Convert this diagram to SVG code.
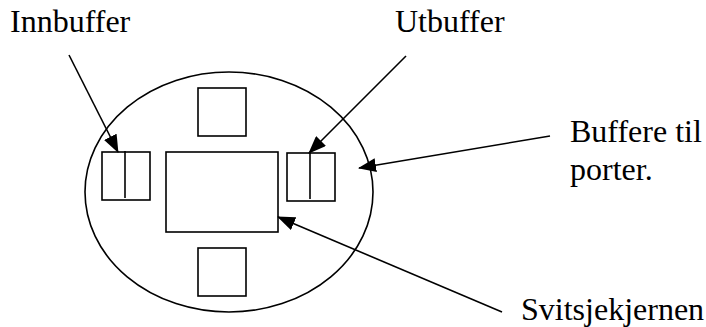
<svg xmlns="http://www.w3.org/2000/svg" width="706" height="327" viewBox="0 0 706 327">
  <style>
    .shape { fill: none; stroke: #000; stroke-width: 1.6; }
    .conn { fill: none; stroke: #000; stroke-width: 1.6; }
    .label { font-family: "Liberation Serif", "Times New Roman", serif; font-size: 32px; fill: #000; }
  </style>
  <defs>
    <marker id="arrow" markerUnits="userSpaceOnUse" markerWidth="18" markerHeight="14" viewBox="0 0 18 14" refX="17" refY="7" orient="auto">
      <path d="M0,0 L18,7 L0,14 Z" fill="#000"/>
    </marker>
  </defs>
  <rect width="706" height="327" fill="#fff"/>

  <!-- switch enclosure -->
  <g id="switch">
    <ellipse class="shape" cx="229" cy="192" rx="144" ry="120"/>
  </g>

  <!-- port buffers -->
  <g id="buffer-top">
    <rect class="shape" x="198" y="88" width="48" height="48"/>
  </g>
  <g id="buffer-in">
    <rect class="shape" x="102" y="152" width="48" height="48"/>
    <line class="shape" x1="125" y1="151" x2="125" y2="198"/>
  </g>
  <g id="buffer-out">
    <rect class="shape" x="287" y="153" width="48" height="48"/>
    <line class="shape" x1="310" y1="153" x2="310" y2="199"/>
  </g>
  <g id="buffer-bottom">
    <rect class="shape" x="198" y="248" width="48" height="48"/>
  </g>

  <!-- switch core -->
  <g id="core">
    <rect class="shape" x="166" y="152" width="112" height="80"/>
  </g>

  <!-- labels -->
  <g id="label-innbuffer"><text class="label" x="10" y="32">Innbuffer</text></g>
  <g id="label-utbuffer"><text class="label" x="395" y="32">Utbuffer</text></g>
  <g id="label-porter">
    <text class="label" x="570" y="142">Buffere til</text>
    <text class="label" x="570" y="180">porter.</text>
  </g>
  <g id="label-kjerne"><text class="label" x="521" y="320">Svitsjekjernen</text></g>

  <!-- connectors -->
  <g id="connectors">
    <line class="conn" x1="69" y1="55" x2="118" y2="152" marker-end="url(#arrow)"/>
    <line class="conn" x1="406" y1="56" x2="309" y2="153" marker-end="url(#arrow)"/>
    <line class="conn" x1="550" y1="136" x2="359" y2="168" marker-end="url(#arrow)"/>
    <line class="conn" x1="502" y1="312" x2="278" y2="217" marker-end="url(#arrow)"/>
  </g>
</svg>
